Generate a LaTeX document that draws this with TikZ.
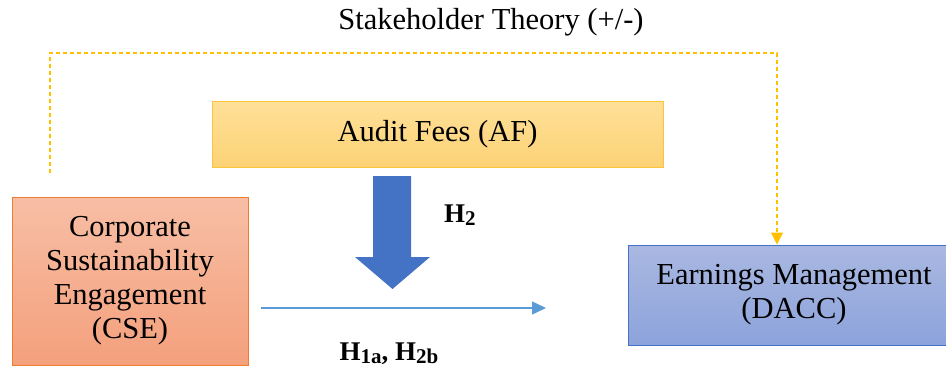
\documentclass[tikz,border=0pt]{standalone}
\usepackage{fontspec}
\setmainfont{Liberation Serif}
\usetikzlibrary{arrows.meta}

\definecolor{cseTop}{RGB}{247,190,165}
\definecolor{cseBot}{RGB}{244,160,124}
\definecolor{cseLine}{RGB}{237,125,49}
\definecolor{afTop}{RGB}{254,224,152}
\definecolor{afBot}{RGB}{253,210,118}
\definecolor{afLine}{RGB}{250,196,60}
\definecolor{emTop}{RGB}{170,184,225}
\definecolor{emBot}{RGB}{140,163,219}
\definecolor{emLine}{RGB}{68,114,196}
\definecolor{blockBlue}{RGB}{68,114,196}
\definecolor{thinBlue}{RGB}{91,155,213}
\definecolor{theoryGold}{RGB}{255,192,0}

\tikzset{
  box/.style={draw, line width=1pt, align=center, inner sep=0pt,
    font=\fontsize{30.5}{34}\selectfont},
  hyp/.style={font=\fontsize{27}{30}\selectfont\bfseries, inner sep=0pt},
  theory/.style={draw=theoryGold, line width=1.1pt, dash pattern=on 4pt off 3pt},
}
\newcommand{\hsub}[1]{\raisebox{-0.1em}{\fontsize{21}{22}\selectfont\bfseries #1}}

\begin{document}
\begin{tikzpicture}[x=1pt,y=-1pt]
  \useasboundingbox (0,0) rectangle (946,370);

  % boxes
  \node[box, draw=afLine, top color=afTop, bottom color=afBot,
        minimum width=451, minimum height=66] (af) at (437.5,134) {Audit Fees (AF)};
  \node[box, draw=cseLine, top color=cseTop, bottom color=cseBot,
        minimum width=236, minimum height=168] (cse) at (130,281)
        {Corporate\\Sustainability\\Engagement\\(CSE)};
  % this box runs past the right page edge
  \node[box, draw=emLine, top color=emTop, bottom color=emBot,
        minimum width=332, minimum height=100] (em) at (794,295)
        {Earnings Management\\(DACC)};

  % title of the theoretical link
  \node[font=\fontsize{30.5}{34}\selectfont, inner sep=0pt] (title) at (491,22)
        {Stakeholder Theory (+/-)};

  % dashed stakeholder-theory link from CSE to earnings management
  \coordinate (dstart) at (50,173);
  \draw[theory, -{Triangle[length=12pt,width=12pt,fill=theoryGold]}]
    (dstart) -- (50,53) -- (777,53) -- (777,53 |- em.north);

  % moderating block arrow from audit fees
  \fill[blockBlue] (373,176) -- (411,176) -- (411,257) -- (430,257)
    -- (392.5,289) -- (355,257) -- (373,257) -- cycle;
  \node[hyp, anchor=west] (h2) at (444,215) {H\hsub{2}};

  % main effect CSE -> earnings management
  \coordinate (mainend) at (546,308);
  \draw[thinBlue, line width=1.4pt, -{Triangle[length=14pt,width=13pt]}]
    (cse.east |- mainend) ++(12,0) -- (mainend);
  \node[hyp] (h1) at (389,354) {H\hsub{1a}, H\hsub{2b}};
\end{tikzpicture}
\end{document}
